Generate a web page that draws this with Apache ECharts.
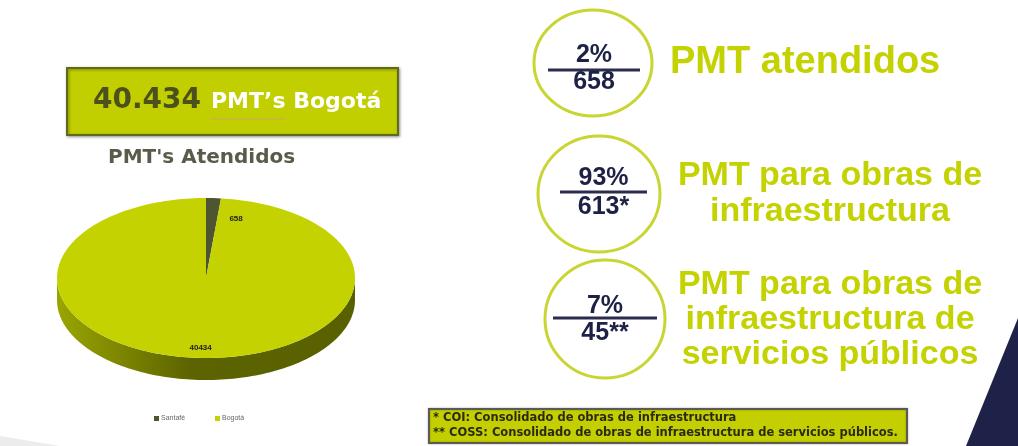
<!DOCTYPE html>
<html>
<head>
<meta charset="utf-8">
<script src="https://cdn.jsdelivr.net/npm/echarts@6/dist/echarts.min.js"></script>
<style>
  html, body { margin: 0; padding: 0; background: #fff; }
  #main { width: 1018px; height: 446px; }
</style>
</head>
<body>
<div id="main"></div>
<script>
// pie data
const categories = ["Santafé", "Bogotá"]
const values = [658, 40434]
const sliceColors = ["#4e5631", "#c3d200"]

// indicators on the right
const percents = ["2%", "93%", "7%"]
const counts = ["658", "613*", "45**"]
const captions = [
  ["PMT atendidos"],
  ["PMT para obras de", "infraestructura"],
  ["PMT para obras de", "infraestructura de", "servicios públicos"]
]
const notes = [
  "* COI: Consolidado de obras de infraestructura",
  "** COSS: Consolidado de obras de infraestructura de servicios públicos."
]

const LIME = "#c3d200"
const NAVY = "#1e2146"
const pie = { cx: 206, cy: 278, rx: 149, ry: 80, depth: 22 }
const total = values.reduce((a, b) => a + b, 0)

function pt(a, dy) {
  return [pie.cx + pie.rx * Math.sin(a), pie.cy - pie.ry * Math.cos(a) + (dy || 0)]
}

function arcPoints(a0, a1, dy) {
  const steps = Math.max(2, Math.ceil((a1 - a0) / (Math.PI / 120)))
  const pts = []
  for (let s = 0; s <= steps; s++) pts.push(pt(a0 + (a1 - a0) * s / steps, dy))
  return pts
}

// 3D looking pie slice, angles come from the data
function renderSlice(params, api) {
  const i = params.dataIndex
  const v = api.value(0)
  let before = 0
  for (let k = 0; k < i; k++) before += values[k]
  const a0 = before / total * Math.PI * 2
  const a1 = (before + v) / total * Math.PI * 2
  const children = []

  // side wall, only the front half is visible
  const r0 = Math.max(a0, Math.PI / 2)
  const r1 = Math.min(a1, Math.PI * 1.5)
  if (r1 > r0) {
    const upper = arcPoints(r0, r1, 0)
    const lower = arcPoints(r0, r1, pie.depth).reverse()
    children.push({
      type: "polygon",
      z2: 1,
      shape: { points: upper.concat(lower) },
      style: {
        fill: new echarts.graphic.LinearGradient(1, 0, 0, 0, [
          { offset: 0, color: "#596000" },
          { offset: 0.55, color: "#5c6300" },
          { offset: 1, color: "#9aa500" }
        ])
      }
    })
  }

  children.push({
    type: "polygon",
    z2: 2,
    shape: { points: [[pie.cx, pie.cy]].concat(arcPoints(a0, a1, 0)) },
    style: { fill: sliceColors[i] }
  })

  const mid = (a0 + a1) / 2
  const small = v / total < 0.05
  const lp = [pie.cx + pie.rx * 0.72 * Math.sin(mid), pie.cy - pie.ry * 0.72 * Math.cos(mid)]
  children.push({
    type: "text",
    z2: 3,
    x: small ? lp[0] + 18 : lp[0],
    y: small ? lp[1] - 2 : lp[1] + 12,
    style: {
      text: String(v),
      fill: "#222",
      font: "bold 8px 'Liberation Sans'",
      align: small ? "left" : "center",
      verticalAlign: "middle"
    }
  })
  return { type: "group", children: children }
}

const graphics = []

// title box
graphics.push({
  type: "rect",
  shape: { x: 67, y: 68, width: 331, height: 67 },
  style: { fill: "#c1cf00", stroke: "#606a1e", lineWidth: 2, shadowBlur: 3, shadowColor: "rgba(0,0,0,0.35)", shadowOffsetX: 1, shadowOffsetY: 1 }
})
graphics.push({
  type: "text", x: 93, y: 101,
  style: { text: "40.434", font: "bold 28px 'DejaVu Sans'", fill: "#4b501c", verticalAlign: "middle" }
})
graphics.push({
  type: "text", x: 211, y: 102,
  style: { text: "PMT’s Bogotá", font: "bold 22px 'DejaVu Sans'", fill: "#ffffff", verticalAlign: "middle" }
})
graphics.push({
  type: "line", shape: { x1: 211, y1: 119, x2: 285, y2: 119 },
  style: { stroke: "#d9a35a", lineWidth: 1 }
})
graphics.push({
  type: "text", x: 108, y: 158,
  style: { text: "PMT's Atendidos", font: "bold 20px 'DejaVu Sans'", fill: "#5a5b48", verticalAlign: "middle" }
})

// legend
categories.forEach((name, i) => {
  const x = 154 + i * 61
  graphics.push({ type: "rect", shape: { x: x, y: 416, width: 5, height: 5 }, style: { fill: sliceColors[i] } })
  graphics.push({
    type: "text", x: x + 7, y: 418.5,
    style: { text: name, font: "7px 'Liberation Sans'", fill: "#666", verticalAlign: "middle" }
  })
})

// circles with numbers
const circles = [
  { cx: 593, cy: 63, rx: 59, ry: 53, ty: 55, ly: 70, lx1: 548, lx2: 640, by: 82 },
  { cx: 599, cy: 194, rx: 61, ry: 58, ty: 178, ly: 192, lx1: 560, lx2: 647, by: 207 },
  { cx: 605, cy: 319, rx: 60, ry: 59, ty: 306, ly: 318, lx1: 553, lx2: 657, by: 333 }
]
const captionY = [[63], [176, 212], [285, 320, 355]]
circles.forEach((c, i) => {
  graphics.push({
    type: "ellipse", shape: { cx: c.cx, cy: c.cy, rx: c.rx, ry: c.ry },
    style: { fill: "#fff", stroke: "#c9d532", lineWidth: 3 }
  })
  const tx = (c.lx1 + c.lx2) / 2
  graphics.push({
    type: "text", x: tx, y: c.ty,
    style: { text: percents[i], font: "bold 25px 'Liberation Sans'", fill: NAVY, align: "center", verticalAlign: "middle" }
  })
  graphics.push({
    type: "line", shape: { x1: c.lx1, y1: c.ly, x2: c.lx2, y2: c.ly },
    style: { stroke: "#2a2d4e", lineWidth: 3 }
  })
  graphics.push({
    type: "text", x: tx, y: c.by,
    style: { text: counts[i], font: "bold 25px 'Liberation Sans'", fill: NAVY, align: "center", verticalAlign: "middle" }
  })
  captions[i].forEach((line, j) => {
    const first = i === 0
    graphics.push({
      type: "text", x: first ? 670 : 830, y: captionY[i][j],
      style: {
        text: line,
        font: (first ? "bold 38px" : "bold 34px") + " 'Liberation Sans'",
        fill: LIME,
        align: first ? "left" : "center",
        verticalAlign: "middle"
      }
    })
  })
})

// footnote box
graphics.push({
  type: "rect",
  shape: { x: 429, y: 409, width: 478, height: 34 },
  style: { fill: "#c3cf00", stroke: "#5b5b52", lineWidth: 2, shadowBlur: 2, shadowColor: "rgba(0,0,0,0.3)" }
})
notes.forEach((t, i) => {
  graphics.push({
    type: "text", x: 433, y: 418 + i * 15,
    style: { text: t, font: "bold 11.5px 'DejaVu Sans'", fill: "#2b2b12", verticalAlign: "middle" }
  })
})

// slide decoration
graphics.push({
  type: "polygon", shape: { points: [[1018, 318], [1018, 446], [966, 446]] },
  style: { fill: "#1f2248" }
})
graphics.push({
  type: "polygon", shape: { points: [[0, 436], [60, 446], [0, 446]] },
  style: { fill: "#ececec" }
})

const chart = echarts.init(document.getElementById("main"), null, { renderer: "canvas" })
chart.setOption({
  backgroundColor: "#ffffff",
  animation: false,
  graphic: { elements: graphics },
  series: [
    {
      type: "custom",
      coordinateSystem: "none",
      renderItem: renderSlice,
      data: values.map((v, i) => ({ name: categories[i], value: [v] }))
    }
  ]
})
window.addEventListener("resize", function () {
  chart.resize()
})
</script>
</body>
</html>
